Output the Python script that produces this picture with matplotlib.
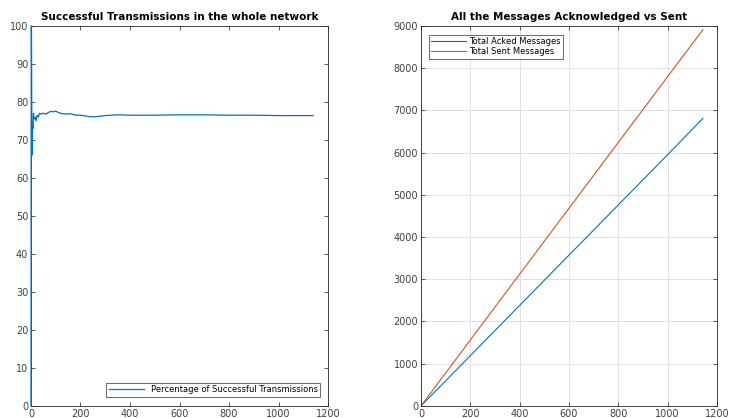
import matplotlib.pyplot as plt

# percentage of successful transmissions over time
stepsPct = [0, 1, 2, 3, 4, 5, 6, 8, 10, 12, 15, 18, 20, 25, 30, 35, 40, 50, 60, 70,
            80, 90, 100, 110, 120, 140, 160, 180, 200, 220, 240, 260, 300, 350, 400,
            500, 600, 700, 800, 900, 1000, 1100, 1140]
pctSuccess = [0, 100, 100, 80, 66, 71, 74, 73, 77, 76, 75.5, 76, 75, 76.5, 76, 77, 76.8,
              77.0, 76.8, 77.2, 77.5, 77.4, 77.6, 77.2, 77.0, 76.8, 76.9, 76.5, 76.5,
              76.3, 76.1, 76.1, 76.4, 76.6, 76.5, 76.5, 76.6, 76.6, 76.5, 76.5, 76.4,
              76.4, 76.4]

# cumulative message counts
stepsMsg = [0, 200, 400, 600, 800, 1000, 1143]
ackedMsgs = [0, 1190, 2380, 3570, 4760, 5950, 6810]
sentMsgs = [0, 1560, 3120, 4680, 6240, 7800, 8910]

blue = '#0072BD'
orange = '#D95319'
tickColor = '#404040'

fig = plt.figure(figsize=(7.29, 4.18), dpi=100)
ax1 = fig.add_axes([0.0425, 0.029, 0.4075, 0.909])
ax2 = fig.add_axes([0.5775, 0.029, 0.406, 0.909])

ax1.plot(stepsPct, pctSuccess, color=blue, linewidth=0.9, zorder=3, clip_on=False,
         label='Percentage of Successful Transmissions')
ax1.set_xlim(0, 1200)
ax1.set_ylim(0, 100)
ax1.set_yticks(range(0, 101, 10))
ax1.set_title('Successful Transmissions in the whole network',
              fontsize=7.5, fontweight='bold', pad=4)
ax1.legend(loc='lower right', bbox_to_anchor=(1 - 8 / 297, 9 / 380), borderaxespad=0,
           fontsize=6, frameon=True, fancybox=False, edgecolor='#262626',
           borderpad=0.3, handlelength=4.2)

ax2.plot(stepsMsg, ackedMsgs, color=blue, linewidth=0.8, label='Total Acked Messages')
ax2.plot(stepsMsg, sentMsgs, color=orange, linewidth=0.8, label='Total Sent Messages')
ax2.set_xlim(0, 1200)
ax2.set_ylim(0, 9000)
ax2.set_yticks(range(0, 9001, 1000))
ax2.grid(True, color='#e0e0e0', linewidth=0.7)
ax2.set_axisbelow(True)
ax2.set_title('All the Messages Acknowledged vs Sent',
              fontsize=7.5, fontweight='bold', pad=4)
ax2.legend(loc='upper left', bbox_to_anchor=(8 / 296, 1 - 9 / 380), borderaxespad=0,
           fontsize=6, frameon=True, fancybox=False, edgecolor='#262626',
           borderpad=0.3, handlelength=4.2, labelspacing=0.1, handletextpad=0.3)

for ax in (ax1, ax2):
    ax.set_xticks(range(0, 1201, 200))
    ax.tick_params(direction='in', length=3, width=0.6, labelsize=7,
                   colors=tickColor, top=True, right=True, pad=2)
    for s in ax.spines.values():
        s.set_color('#262626')
        s.set_linewidth(0.6)
    ax.legend_.get_frame().set_linewidth(0.6)

fig.savefig('out.png', dpi=100)
